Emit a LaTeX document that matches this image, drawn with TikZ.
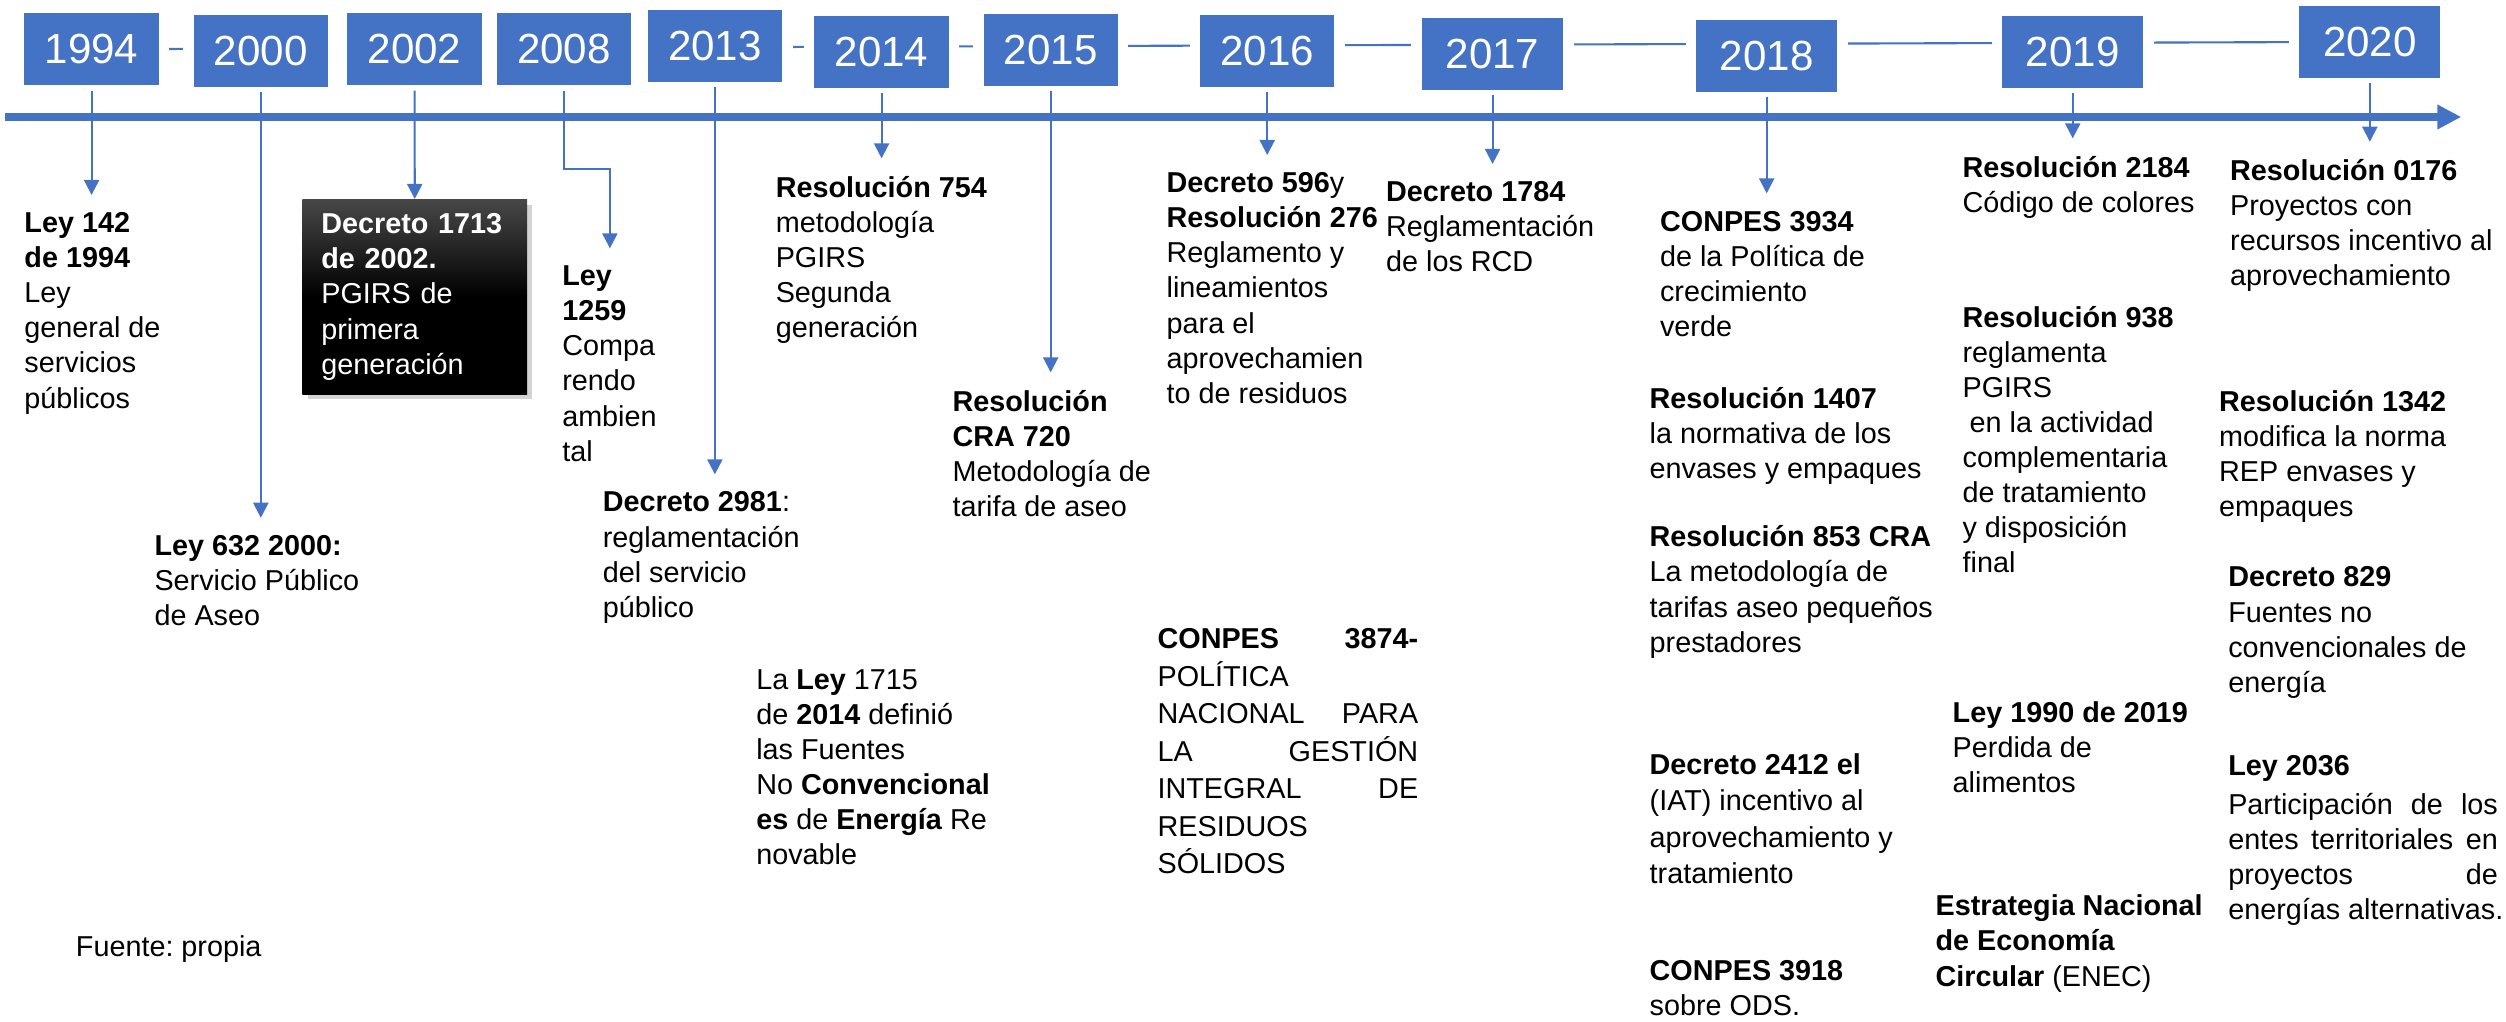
\documentclass[tikz,border=0pt]{standalone}
\usepackage{fontspec}
\setmainfont{Liberation Sans}
\usepackage{tikz}
\usetikzlibrary{arrows.meta,shadows,backgrounds}
\frenchspacing

\definecolor{officeblue}{HTML}{4472C4}

\tikzset{
  yearbox/.style={fill=officeblue, draw=white, line width=3pt, outer sep=0pt, inner sep=0pt,
    text=white, minimum width=1.45cm, minimum height=0.83cm, font=\fontsize{12}{14}\selectfont},
  note/.style={anchor=north west, align=left, inner xsep=0pt, inner ysep=5pt, outer sep=0pt,
    font=\fontsize{8.2}{10}\selectfont},
  darkbox/.style={anchor=north, align=left, text width=1.87cm, inner xsep=5.4pt, inner ysep=4pt,
    text=white, top color=black!72, bottom color=black, middle color=black,
    drop shadow={shadow xshift=1.5pt, shadow yshift=-1.5pt, opacity=.35},
    font=\fontsize{8.2}{10}\selectfont},
  pointer/.style={draw=officeblue, line width=0.6pt, -{Triangle[length=4.3pt,width=4.3pt]}},
  yearlink/.style={draw=officeblue, line width=0.6pt},
  timeline/.style={draw=officeblue, line width=2.1pt, -{Triangle[length=6.8pt,width=6.6pt]}}
}

\begin{document}
\begin{tikzpicture}[x=0.016cm, y=-0.016cm]
             \useasboundingbox (0,0) rectangle (1568,639);

             \coordinate (ax0) at (3.4,73.2);
             \coordinate (ax1) at (1540,73.2);
             \draw[timeline] (ax0) -- (ax1);

             \node[yearbox] (y1994) at (57.3,30.8) {1994};
             \node[yearbox] (y2000) at (163.2,31.9) {2000};
             \node[yearbox] (y2002) at (259.4,30.8) {2002};
             \node[yearbox] (y2008) at (352.8,30.8) {2008};
             \node[yearbox] (y2013) at (447.3,28.7) {2013};
             \node[yearbox] (y2014) at (551.6,32.5) {2014};
             \node[yearbox] (y2015) at (657.4,31.3) {2015};
             \node[yearbox] (y2016) at (792.9,31.9) {2016};
             \node[yearbox, minimum width=1.52cm] (y2017) at (933.9,33.8) {2017};
             \node[yearbox, minimum width=1.52cm] (y2018) at (1105.4,35) {2018};
             \node[yearbox, minimum width=1.52cm] (y2019) at (1296.9,32.5) {2019};
             \node[yearbox, minimum width=1.52cm] (y2020) at (1482.8,26.2) {2020};

             \begin{scope}[on background layer]
             \draw[yearlink] (y1994) -- (y2020);
             \end{scope}

             \node[note] (t1994) at (15.3,122) {\textbf{Ley 142}\\\textbf{de 1994}\\Ley\\general de\\servicios\\públicos};
             \node[note] (t2000) at (96.7,324) {\textbf{Ley 632 2000:}\\Servicio Público\\de Aseo};
             \node[darkbox] (d2002) at (259.5,124.5) {\textbf{Decreto 1713}\\\textbf{de 2002.}\\PGIRS de\\primera\\generación};
             \node[note] (t2008) at (351.8,155.4) {\textbf{Ley}\\\textbf{1259}\\Compa\\rendo\\ambien\\tal};
             \node[note] (t2013) at (377.2,296.8) {\textbf{Decreto 2981}:\\reglamentación\\del servicio\\público};
             \node[note] (t2014) at (485.4,99.1) {\textbf{Resolución 754}\\metodología\\PGIRS\\Segunda\\generación};
             \node[note] (t2015) at (596,233) {\textbf{Resolución}\\\textbf{CRA 720}\\Metodología de\\tarifa de aseo};
             \node[note] (t2016) at (730,97) {\textbf{Decreto 596}y\\\textbf{Resolución 276}\\Reglamento y\\lineamientos\\para el\\aprovechamien\\to de residuos};
             \node[note] (t2017) at (867.3,102.6) {\textbf{Decreto 1784}\\Reglamentación\\de los RCD};
             \node[note] (t2018) at (1038.7,121) {\textbf{CONPES 3934}\\de la Política de\\crecimiento\\verde};
             \node[note] (t2019) at (1228,86.6) {\textbf{Resolución 2184}\\Código de colores};
             \node[note] (t2020) at (1395.4,88.7) {\textbf{Resolución 0176}\\Proyectos con\\recursos incentivo al\\aprovechamiento};

             \node[note] (l1715) at (473.2,407.8) {La \textbf{Ley} 1715\\de \textbf{2014} definió\\las Fuentes\\No \textbf{Convencional}\\\textbf{es} de \textbf{Energía} Re\\novable};
             \node[note, text width=2.61cm, align=justify, font=\fontsize{8.2}{10.7}\selectfont] (c3874) at (724.3,382.2) {\textbf{CONPES}\hfill\textbf{3874-}\\POLÍTICA\\NACIONAL\hfill PARA\\LA\hfill GESTIÓN\\INTEGRAL\hfill DE\\RESIDUOS\\SÓLIDOS};
             \node[note] (r1407) at (1032.2,231.6) {\textbf{Resolución 1407}\\la normativa de los\\envases y empaques};
             \node[note] (r853) at (1032.2,318) {\textbf{Resolución 853 CRA}\\La metodología de\\tarifas aseo pequeños\\prestadores};
             \node[note, font=\fontsize{8.2}{10.4}\selectfont] (d2412) at (1032.2,460.4) {\textbf{Decreto 2412 el}\\(IAT) incentivo al\\aprovechamiento y\\tratamiento};
             \node[note] (c3918) at (1032.2,590) {\textbf{CONPES 3918}\\sobre ODS.};
             \node[note] (r938) at (1228,180.5) {\textbf{Resolución 938}\\reglamenta\\PGIRS\\\hspace{2pt}en la actividad\\complementaria\\de tratamiento\\y disposición\\final};
             \node[note] (l1990) at (1221.8,427.8) {\textbf{Ley 1990 de 2019}\\Perdida de\\alimentos};
             \node[note] (enec) at (1211.1,549) {\textbf{Estrategia Nacional}\\\textbf{de Economía}\\\textbf{Circular} (ENEC)};
             \node[note] (r1342) at (1388.5,233) {\textbf{Resolución 1342}\\modifica la norma\\REP envases y\\empaques};
             \node[note] (d829) at (1394.2,343.7) {\textbf{Decreto 829}\\Fuentes no\\convencionales de\\energía};
             \node[note, text width=2.70cm, align=justify] (l2036) at (1394.2,461.7) {\textbf{Ley 2036}\\[1pt]Participación\hfill de\hfill los\\entes\hfill territoriales\hfill en\\proyectos\hfill de\\\mbox{energías alternativas.}};
             \node[note] (fuente) at (47.5,574.6) {Fuente: propia};

             \coordinate (k2008) at (381.6,105.8);
             \draw[pointer] (y1994.south) -- (y1994.south |- t1994.north);
             \draw[pointer] (y2000.south) -- (y2000.south |- t2000.north);
             \draw[pointer] (y2002.south) -- (d2002.north);
             \draw[pointer] (y2008.south) |- (k2008) -- (k2008 |- t2008.north);
             \draw[pointer] (y2013.south) -- (y2013.south |- t2013.north);
             \draw[pointer] (y2014.south) -- (y2014.south |- t2014.north);
             \draw[pointer] (y2015.south) -- (y2015.south |- t2015.north);
             \draw[pointer] (y2016.south) -- (y2016.south |- t2016.north);
             \draw[pointer] (y2017.south) -- (y2017.south |- t2017.north);
             \draw[pointer] (y2018.south) -- (y2018.south |- t2018.north);
             \draw[pointer] (y2019.south) -- (y2019.south |- t2019.north);
             \draw[pointer] (y2020.south) -- (y2020.south |- t2020.north);
\end{tikzpicture}
\end{document}
